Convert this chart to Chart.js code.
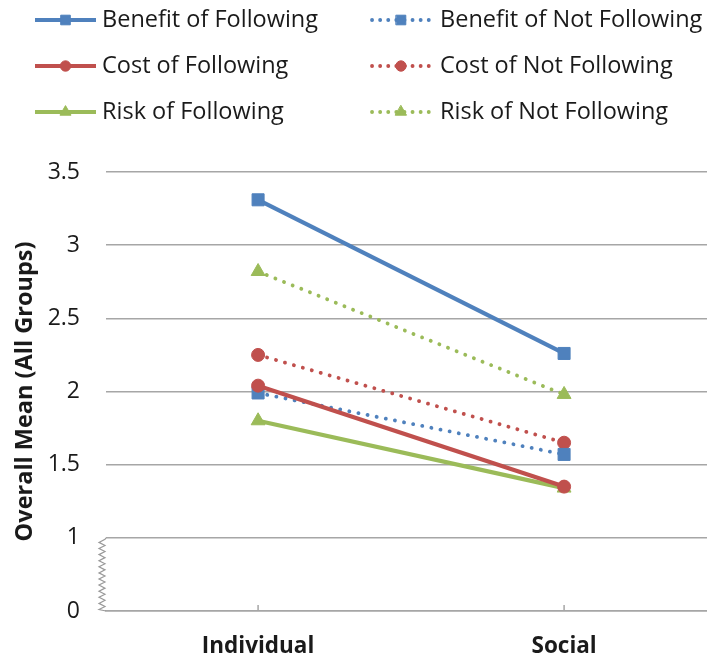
<!DOCTYPE html>
<html>
<head>
<meta charset="utf-8">
<script src="https://cdn.jsdelivr.net/npm/chart.js@4/dist/chart.umd.min.js"></script>
<style>
  html, body { margin: 0; padding: 0; background: #fff; overflow: hidden; }
  #chart { display: block; width: 707px; height: 658px; }
</style>
</head>
<body>
<canvas id="chart" width="707" height="658"></canvas>
<script>
// Categories and series means
const categories = ['Individual', 'Social'];
const benefitFollowing    = [3.31, 2.26];
const costFollowing       = [2.04, 1.35];
const riskFollowing       = [1.80, 1.34];
const benefitNotFollowing = [1.99, 1.57];
const costNotFollowing    = [2.25, 1.65];
const riskNotFollowing    = [2.82, 1.98];

// Y tick values; the lowest one stands in for 0 below the axis break
const yTicks = [0.5, 1, 1.5, 2, 2.5, 3, 3.5];
const yTickLabels = ['0', '1', '1.5', '2', '2.5', '3', '3.5'];

// The category axis is open on the right: the plot runs past the canvas edge
const X_MIN = -0.497, X_MAX = 1.467;

const BLUE = '#4F81BD', RED = '#C0504D', GREEN = '#9BBB59';
const FONT = '"Open Sans", Calibri, sans-serif';
const GRID = '#A6A6A6';
const DOTS = [0.1, 9.2];

function series(label, values, color, style, radius, dotted) {
  return {
    label,
    data: values.map((v, i) => ({ x: i, y: v })),
    borderColor: color, backgroundColor: color,
    pointBackgroundColor: color, pointBorderColor: color,
    borderWidth: dotted ? 3.8 : 4.2,
    borderDash: dotted ? DOTS : [],
    borderCapStyle: dotted ? 'round' : 'butt',
    pointStyle: style, pointRadius: radius, pointHoverRadius: radius,
    pointBorderWidth: 1,
    tension: 0
  };
}

const datasets = [
  series('Benefit of Following', benefitFollowing, BLUE, 'rect', 8.5, false),
  series('Cost of Following', costFollowing, RED, 'circle', 6.5, false),
  series('Risk of Following', riskFollowing, GREEN, 'triangle', 8, false),
  series('Benefit of Not Following', benefitNotFollowing, BLUE, 'rect', 8.5, true),
  series('Cost of Not Following', costNotFollowing, RED, 'circle', 6.5, true),
  series('Risk of Not Following', riskNotFollowing, GREEN, 'triangle', 8, true)
];

// Two-column legend across the top
const legendPlugin = {
  id: 'twoColLegend',
  afterDraw(chart) {
    const ctx = chart.ctx;
    const cols = [{x0: 35, x1: 96, tx: 102}, {x0: 372, x1: 430, tx: 440}];
    const rows = [20, 66, 112];
    chart.data.datasets.forEach((ds, i) => {
      const c = cols[Math.floor(i / 3)];
      const y = rows[i % 3];
      ctx.save();
      ctx.strokeStyle = ds.borderColor;
      ctx.lineWidth = ds.borderWidth;
      ctx.lineCap = ds.borderCapStyle;
      ctx.setLineDash(ds.borderDash.length ? [0.1, 8] : []);
      ctx.beginPath();
      ctx.moveTo(c.x0, y);
      ctx.lineTo(c.x1, y);
      ctx.stroke();
      ctx.setLineDash([]);
      ctx.fillStyle = ds.pointBackgroundColor;
      ctx.strokeStyle = ds.pointBorderColor;
      ctx.lineWidth = 1;
      Chart.helpers.drawPoint(ctx, {
        pointStyle: ds.pointStyle, radius: ds.pointRadius * 0.8, rotation: 0, borderWidth: 1
      }, (c.x0 + c.x1) / 2, y);
      ctx.fillStyle = '#1a1a1a';
      ctx.font = '23.5px ' + FONT;
      ctx.textBaseline = 'middle';
      ctx.textAlign = 'left';
      ctx.fillText(ds.label, c.tx, y);
      ctx.restore();
    });
  }
};

// Inward tick marks on the category axis
const innerTicksPlugin = {
  id: 'innerTicks',
  afterDatasetsDraw(chart) {
    const x = chart.scales.x;
    const ctx = chart.ctx;
    const b = chart.chartArea.bottom;
    ctx.save();
    ctx.strokeStyle = GRID;
    ctx.lineWidth = 1.5;
    ctx.beginPath();
    x.ticks.forEach((t, i) => {
      const px = x.getPixelForTick(i);
      ctx.moveTo(px, b);
      ctx.lineTo(px, b - 6);
    });
    ctx.stroke();
    ctx.restore();
  }
};

// Zigzag break on the y axis between 0 and 1
const breakPlugin = {
  id: 'axisBreak',
  afterDraw(chart) {
    const y = chart.scales.y;
    const ctx = chart.ctx;
    const x = chart.chartArea.left - 4;
    const yTop = y.getPixelForValue(1);
    const yBot = y.getPixelForValue(0.5);
    const n = 12;
    const step = (yBot - yTop) / (n * 2);
    ctx.save();
    ctx.strokeStyle = '#9A9A9A';
    ctx.lineWidth = 1.2;
    ctx.beginPath();
    ctx.moveTo(chart.chartArea.left, yTop);
    ctx.lineTo(x + 3, yTop + step / 2);
    for (let k = 1; k < n * 2; k++) {
      ctx.lineTo(x + (k % 2 ? -3 : 3), yTop + step / 2 + k * step);
    }
    ctx.lineTo(chart.chartArea.left, yBot);
    ctx.stroke();
    ctx.restore();
  }
};

new Chart(document.getElementById('chart'), {
  type: 'line',
  data: { datasets },
  options: {
    responsive: false,
    animation: false,
    events: [],
    layout: { autoPadding: false, padding: { top: 172, right: 0, left: 0, bottom: 0 } },
    plugins: { legend: { display: false }, tooltip: { enabled: false } },
    scales: {
      x: {
        type: 'linear',
        min: X_MIN, max: X_MAX,
        afterBuildTicks(scale) { scale.ticks = categories.map((c, i) => ({ value: i })); },
        grid: { drawOnChartArea: false, drawTicks: false },
        border: { display: true, color: GRID, width: 1.5 },
        ticks: {
          padding: 22, color: '#1a1a1a',
          font: { family: FONT, size: 22.5, weight: 'bold' },
          callback(v) { return categories[v] ?? ''; }
        },
        afterFit(scale) { scale.height = 47; }
      },
      y: {
        min: 0.5, max: 3.5,
        afterBuildTicks(scale) { scale.ticks = yTicks.map(v => ({ value: v })); },
        ticks: {
          padding: 26, color: '#1a1a1a',
          font: { family: FONT, size: 23 },
          callback(v) { const i = yTicks.indexOf(v); return i >= 0 ? yTickLabels[i] : ''; }
        },
        grid: { color: GRID, lineWidth: 1.5, drawTicks: false },
        border: { display: false },
        title: {
          display: true, text: 'Overall Mean (All Groups)', color: '#1a1a1a',
          font: { family: FONT, size: 23.5, weight: 'bold' },
          padding: { top: 11, bottom: 0 }
        },
        afterFit(scale) { scale.width = 106; }
      }
    }
  },
  plugins: [legendPlugin, innerTicksPlugin, breakPlugin]
});
</script>
</body>
</html>
